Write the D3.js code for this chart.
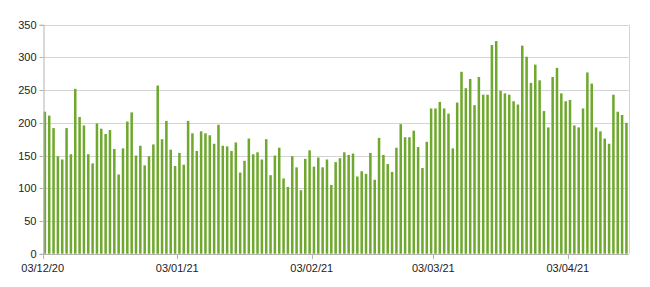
<!DOCTYPE html>
<html>
<head>
<meta charset="utf-8">
<script src="https://cdn.jsdelivr.net/npm/d3@7"></script>
<style>
  body { margin: 0; background: #fff; }
  svg text { font-family: "Liberation Sans", Arial, sans-serif; font-size: 11px; fill: #222; }
</style>
</head>
<body>
<svg id="chart" width="650" height="287"></svg>
<script>
// daily values, 03/12/20 .. 16/04/21
let startDay = new Date(2020, 11, 3);
let values = [
  217,211,192,149,144,192,152,252,209,196,152,138,199,191,183,189,
  160,121,161,202,216,150,165,135,149,167,257,175,203,159,134,154,136,
  203,184,157,187,184,181,
  168,197,165,164,157,170,124,142,176,152,155,144,175,120,150,162,115,102,149,132,97,145,158,
  133,147,132,144,105,140,146,155,151,153,118,126,122,154,113,177,151,137,125,162,198,178,178,
  188,163,131,171,222,222,232,222,214,161,231,278,253,267,227,270,243,243,319,325,249,245,243,
  233,228,318,301,261,289,265,218,193,270,284,245,233,235,196,193,222,277,260,193,187,176,168,243,217,212,200
];
let days = d3.range(values.length).map(i => d3.timeDay.offset(startDay, i));
let xTickLabels = ['03/12/20', '03/01/21', '03/02/21', '03/03/21', '03/04/21'];
let yTicks = [0, 50, 100, 150, 200, 250, 300, 350];

let fmt = d3.timeFormat('%d/%m/%y');
let data = days.map((d, i) => ({ day: d, label: fmt(d), value: values[i] }));

let margin = { top: 24.7, right: 21.4, bottom: 33.3, left: 42.7 };
let width = 650, height = 287;
let svg = d3.select('#chart');

let x = d3.scaleBand()
  .domain(data.map(d => d.label))
  .range([margin.left, width - margin.right])
  .paddingInner(0.42)
  .paddingOuter(0.21);

let y = d3.scaleLinear()
  .domain([0, 350])
  .range([height - margin.bottom, margin.top]);

// grid
svg.append('g')
  .selectAll('line')
  .data(yTicks)
  .enter()
  .append('line')
  .attr('x1', margin.left)
  .attr('x2', width - margin.right)
  .attr('y1', d => Math.round(y(d)) + 0.5)
  .attr('y2', d => Math.round(y(d)) + 0.5)
  .attr('stroke', '#d4d4d4');

// right border of plot area
svg.append('line')
  .attr('x1', Math.round(width - margin.right) + 0.5)
  .attr('x2', Math.round(width - margin.right) + 0.5)
  .attr('y1', y(350))
  .attr('y2', y(0))
  .attr('stroke', '#d4d4d4');

// bars
svg.append('g')
  .selectAll('rect')
  .data(data)
  .enter()
  .append('rect')
  .attr('x', d => x(d.label))
  .attr('y', d => y(d.value))
  .attr('width', x.bandwidth())
  .attr('height', d => y(0) - y(d.value))
  .attr('fill', '#6ea82c');

// y axis
let yAxis = svg.append('g')
  .attr('transform', `translate(${Math.round(margin.left) + 0.5},0)`)
  .call(d3.axisLeft(y).tickValues(yTicks).tickSize(4).tickPadding(3));
yAxis.select('.domain').attr('stroke', '#b3b3b3');
yAxis.selectAll('.tick line').attr('stroke', '#b3b3b3');
yAxis.selectAll('.tick text').style('font-size', '11px').attr('fill', '#222');
yAxis.selectAll('.tick').attr('transform', d => `translate(0,${Math.round(y(d)) + 0.5})`);

// x axis: ticks at the start of the labelled days
let step = x.step();
let tickPos = xTickLabels.map(l => x(l) - x.paddingInner() * step / 2);
let xAxis = svg.append('g');
xAxis.append('line')
  .attr('x1', margin.left)
  .attr('x2', width - margin.right)
  .attr('y1', Math.round(y(0)) + 0.5)
  .attr('y2', Math.round(y(0)) + 0.5)
  .attr('stroke', '#b3b3b3');
xAxis.selectAll('line.tk')
  .data(xTickLabels)
  .enter()
  .append('line')
  .attr('class', 'tk')
  .attr('x1', (d, i) => Math.round(tickPos[i]) + 0.5)
  .attr('x2', (d, i) => Math.round(tickPos[i]) + 0.5)
  .attr('y1', Math.round(y(0)))
  .attr('y2', Math.round(y(0)) + 5)
  .attr('stroke', '#b3b3b3');
xAxis.selectAll('text')
  .data(xTickLabels)
  .enter()
  .append('text')
  .attr('x', (d, i) => tickPos[i])
  .attr('y', y(0) + 18)
  .attr('text-anchor', 'middle')
  .text(d => d);
</script>
</body>
</html>
